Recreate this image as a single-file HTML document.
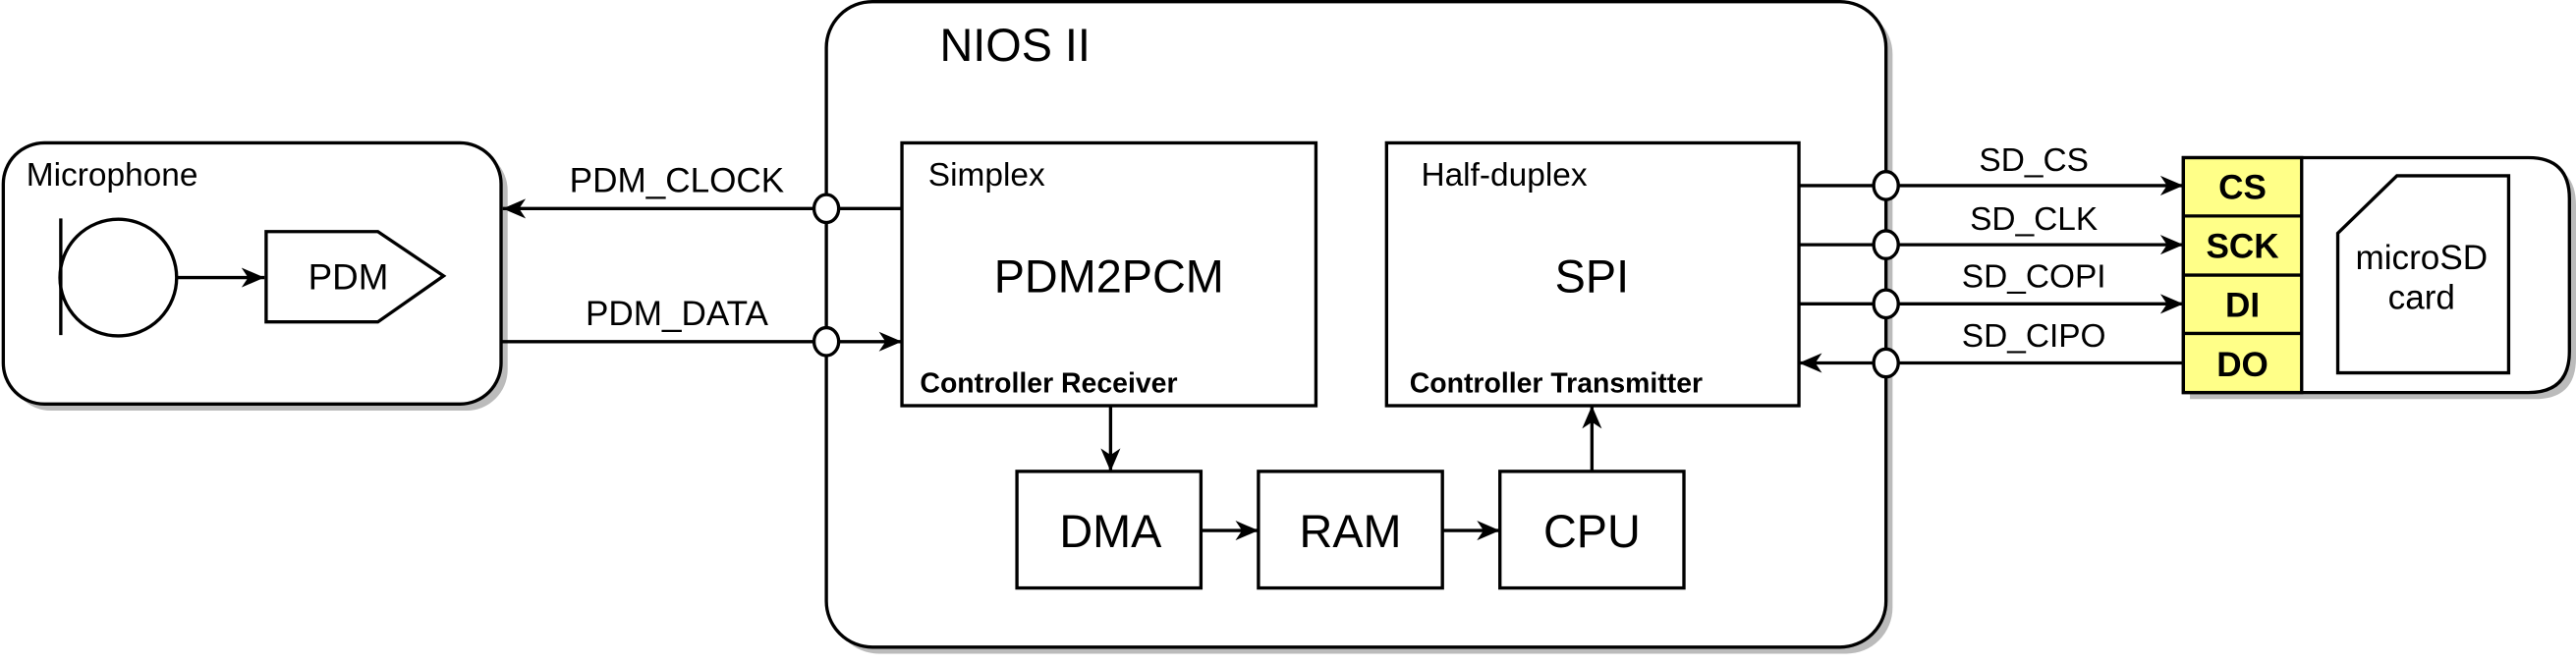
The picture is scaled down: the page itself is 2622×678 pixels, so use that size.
<!DOCTYPE html>
<html><head><meta charset="utf-8"><style>
html,body{margin:0;padding:0;background:#fff;}
svg{display:block;}
text{font-family:"Liberation Sans",Arial,sans-serif;fill:#000;}
</style></head><body>
<svg width="2622" height="678" viewBox="0 0 1568 405.5" preserveAspectRatio="none" xmlns="http://www.w3.org/2000/svg">
<defs>
<marker id="ar" viewBox="0 0 14 12" refX="14" refY="6" markerWidth="14" markerHeight="12" markerUnits="userSpaceOnUse" orient="auto">
<path d="M0,0 L14,6 L0,12 L4,6 Z" fill="#000"/>
</marker>
</defs>
<g fill="#bbb" stroke="none">
<rect x="507" y="5" width="645" height="393" rx="28"/>
<rect x="6" y="91" width="303" height="159" rx="25"/>
<circle cx="76" cy="173" r="35.5"/>
<path d="M166,145 L234,145 L274,172 L234,200 L166,200 Z"/>
<rect x="553" y="91" width="252" height="160"/>
<rect x="848" y="91" width="251" height="160"/>
<rect x="623" y="291" width="112" height="71"/>
<rect x="770" y="291" width="112" height="71"/>
<rect x="917" y="291" width="112" height="71"/>
<path d="M1333,100 L1543,100 Q1568,100 1568,125 L1568,218 Q1568,243 1543,243 L1333,243 Z"/>
<path d="M1463,111 L1531,111 L1531,231 L1427,231 L1427,146 Z"/>
</g>
<g fill="#fff" stroke="#000" stroke-width="2">
<rect x="503" y="1" width="645" height="393" rx="28"/>
<rect x="2" y="87" width="303" height="159" rx="25"/>
<circle cx="72" cy="169" r="35.5"/>
<path d="M162,141 L230,141 L270,168 L230,196 L162,196 Z"/>
<rect x="549" y="87" width="252" height="160"/>
<rect x="844" y="87" width="251" height="160"/>
<rect x="619" y="287" width="112" height="71"/>
<rect x="766" y="287" width="112" height="71"/>
<rect x="913" y="287" width="112" height="71"/>
<path d="M1329,96 L1539,96 Q1564,96 1564,121 L1564,214 Q1564,239 1539,239 L1329,239 Z"/>
<rect x="1329" y="96" width="72" height="143" fill="#ffff88"/>
<path d="M1329,131.5 H1401 M1329,167.5 H1401 M1329,203 H1401" fill="none"/>
<path d="M1459,107 L1527,107 L1527,227 L1423,227 L1423,142 Z"/>
</g>
<g stroke="#000" stroke-width="2" fill="none">
<line x1="37" y1="133" x2="37" y2="204"/>
<line x1="108" y1="169" x2="161" y2="169" marker-end="url(#ar)"/>
<line x1="549" y1="127" x2="306" y2="127" marker-end="url(#ar)"/>
<line x1="305" y1="208" x2="549" y2="208" marker-end="url(#ar)"/>
<line x1="676" y1="247" x2="676" y2="287" marker-end="url(#ar)"/>
<line x1="731" y1="323" x2="766" y2="323" marker-end="url(#ar)"/>
<line x1="878" y1="323" x2="913" y2="323" marker-end="url(#ar)"/>
<line x1="969" y1="287" x2="969" y2="247" marker-end="url(#ar)"/>
<line x1="1095" y1="113" x2="1329" y2="113" marker-end="url(#ar)"/>
<line x1="1095" y1="149" x2="1329" y2="149" marker-end="url(#ar)"/>
<line x1="1095" y1="185" x2="1329" y2="185" marker-end="url(#ar)"/>
<line x1="1329" y1="221" x2="1095" y2="221" marker-end="url(#ar)"/>
</g>
<g fill="#fff" stroke="#000" stroke-width="2">
<ellipse cx="503" cy="127" rx="7.5" ry="8.5"/>
<ellipse cx="503" cy="208" rx="7.5" ry="8.5"/>
<ellipse cx="1148" cy="113" rx="7.5" ry="8.5"/>
<ellipse cx="1148" cy="149" rx="7.5" ry="8.5"/>
<ellipse cx="1148" cy="185" rx="7.5" ry="8.5"/>
<ellipse cx="1148" cy="221" rx="7.5" ry="8.5"/>
</g>
<text x="572" y="37" font-size="28">NIOS II</text>
<text x="16" y="113" font-size="20">Microphone</text>
<text x="212" y="176" font-size="22" text-anchor="middle">PDM</text>
<text x="412" y="117" font-size="21" text-anchor="middle">PDM_CLOCK</text>
<text x="412" y="198" font-size="21" text-anchor="middle">PDM_DATA</text>
<text x="565" y="113" font-size="20">Simplex</text>
<text x="675" y="178" font-size="28" text-anchor="middle">PDM2PCM</text>
<text x="560" y="239" font-size="17" font-weight="bold">Controller Receiver</text>
<text x="865" y="113" font-size="20">Half-duplex</text>
<text x="969" y="178" font-size="28" text-anchor="middle">SPI</text>
<text x="858" y="239" font-size="17" font-weight="bold">Controller Transmitter</text>
<text x="676" y="333" font-size="28" text-anchor="middle">DMA</text>
<text x="822" y="333" font-size="28" text-anchor="middle">RAM</text>
<text x="969" y="333" font-size="28" text-anchor="middle">CPU</text>
<text x="1238" y="104" font-size="20" text-anchor="middle">SD_CS</text>
<text x="1238" y="140" font-size="20" text-anchor="middle">SD_CLK</text>
<text x="1238" y="175" font-size="20" text-anchor="middle">SD_COPI</text>
<text x="1238" y="211" font-size="20" text-anchor="middle">SD_CIPO</text>
<text x="1365" y="121" font-size="21" font-weight="bold" text-anchor="middle">CS</text>
<text x="1365" y="157" font-size="21" font-weight="bold" text-anchor="middle">SCK</text>
<text x="1365" y="193" font-size="21" font-weight="bold" text-anchor="middle">DI</text>
<text x="1365" y="229" font-size="21" font-weight="bold" text-anchor="middle">DO</text>
<text x="1474" y="164" font-size="21" text-anchor="middle">microSD</text>
<text x="1474" y="188" font-size="21" text-anchor="middle">card</text>
</svg>
</body></html>
